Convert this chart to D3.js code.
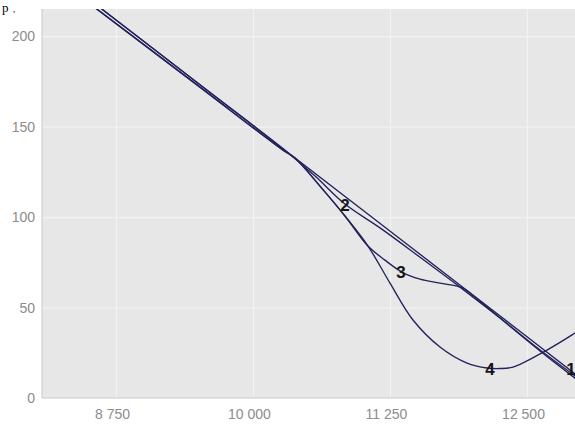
<!DOCTYPE html>
<html><head><meta charset="utf-8">
<script src="https://cdn.jsdelivr.net/npm/d3@7"></script>
<style>body{margin:0;background:#fff;overflow:hidden}svg{display:block}</style>
</head><body>
<script>
// ---- data ----
const xTicks = [8750, 10000, 11250, 12500];
const xTickLabels = ["8 750", "10 000", "11 250", "12 500"];
const yTicks = [0, 50, 100, 150, 200];
const yTickLabels = ["0", "50", "100", "150", "200"];

const curve1X = [8100, 9000, 10000, 11000, 12000, 13100];
const curve1Y = [239.3, 197.3, 150.6, 103.9, 57.2, 5.8];

const curve2X = [8148, 9516, 10274, 10566, 10839, 11159, 11524, 11889, 12254, 12619, 12938, 13120];
const curve2Y = [237.1, 173.1, 137.8, 122.7, 107.2, 94.0, 77.8, 61.3, 44.2, 26.5, 12.2, 3.9];

const curve3X = [8148, 8577, 9516, 10274, 10383, 10611, 10839, 11049, 11204, 11359, 11524, 11706, 11907, 12026, 12254, 12619, 12938, 13120];
const curve3Y = [234.6, 214.9, 171.8, 137.0, 132.6, 117.1, 100.6, 84.0, 76.2, 69.6, 65.7, 63.5, 61.0, 55.8, 44.2, 26.0, 11.0, 2.8];

const curve4X = [8148, 8577, 9516, 10274, 10383, 10611, 10839, 11049, 11250, 11460, 11706, 11953, 12135, 12254, 12372, 12682, 12938, 13120];
const curve4Y = [234.6, 214.9, 171.8, 137.0, 132.6, 117.1, 100.6, 84.0, 63.5, 43.1, 28.2, 19.3, 16.6, 16.3, 17.1, 26.5, 35.9, 43.1];

const labelText = ["1", "2", "3", "4"];
const labelX = [12901, 10839, 11350, 12162];
const labelY = [16.0, 106.6, 69.1, 15.5];

// ---- layout ----
const W = 575, H = 424;
const plot = {left: 42, top: 9, right: 600, bottom: 398};

const svg = d3.select("body").append("svg").attr("width", W).attr("height", H);

const x = d3.scaleLinear().domain([8075, 13166]).range([plot.left, plot.right]);
const y = d3.scaleLinear().domain([0, 215]).range([plot.bottom, plot.top]);

svg.append("defs").append("clipPath").attr("id", "clip")
  .append("rect").attr("x", plot.left).attr("y", plot.top)
  .attr("width", plot.right - plot.left).attr("height", plot.bottom - plot.top);

// plot background
svg.append("rect").attr("x", plot.left).attr("y", plot.top)
  .attr("width", plot.right - plot.left).attr("height", plot.bottom - plot.top)
  .attr("fill", "#e7e7e7");

// gridlines
const gy = svg.append("g").attr("transform", `translate(${plot.left},0)`)
  .call(d3.axisLeft(y).tickValues(yTicks.slice(1)).tickSize(-(plot.right - plot.left)).tickFormat(""));
gy.select(".domain").remove();
gy.selectAll("line").attr("stroke", "#f2f2f2").attr("stroke-width", 1.2);

const gx = svg.append("g").attr("transform", `translate(0,${plot.bottom})`)
  .call(d3.axisBottom(x).tickValues(xTicks).tickSize(-(plot.bottom - plot.top)).tickFormat(""));
gx.select(".domain").remove();
gx.selectAll("line").attr("stroke", "#f2f2f2").attr("stroke-width", 1.2);

// axis lines
svg.append("line").attr("x1", plot.left).attr("x2", plot.left)
  .attr("y1", plot.top).attr("y2", plot.bottom).attr("stroke", "#c8c8c8");
svg.append("line").attr("x1", plot.left).attr("x2", W)
  .attr("y1", plot.bottom).attr("y2", plot.bottom).attr("stroke", "#c8c8c8");

// tick labels
const yAxis = svg.append("g").attr("transform", `translate(${plot.left},0)`)
  .call(d3.axisLeft(y).tickValues(yTicks).tickSize(0).tickPadding(7)
    .tickFormat((d, i) => yTickLabels[i]));
yAxis.select(".domain").remove();
yAxis.selectAll("text").attr("fill", "#8c8c8c").style("font-family", "'Liberation Sans', Arial, sans-serif").style("font-size", "14px");

const xAxis = svg.append("g").attr("transform", `translate(0,${plot.bottom})`)
  .call(d3.axisBottom(x).tickValues(xTicks).tickSize(0).tickPadding(11)
    .tickFormat((d, i) => xTickLabels[i]));
xAxis.select(".domain").remove();
xAxis.selectAll("text").attr("fill", "#8c8c8c").attr("dx", -4)
  .style("font-family", "'Liberation Sans', Arial, sans-serif").style("font-size", "14px");

// curves
const line = d3.line().x(d => x(d[0])).y(d => y(d[1])).curve(d3.curveCatmullRom.alpha(0.5));
const series = [
  d3.zip(curve1X, curve1Y),
  d3.zip(curve2X, curve2Y),
  d3.zip(curve3X, curve3Y),
  d3.zip(curve4X, curve4Y)
];
svg.append("g").attr("clip-path", "url(#clip)")
  .selectAll("path").data(series).join("path")
  .attr("d", line).attr("fill", "none")
  .attr("stroke", "#22225c").attr("stroke-width", 1.35);

// curve labels
svg.append("g").selectAll("text").data(labelText).join("text")
  .attr("x", (d, i) => x(labelX[i])).attr("y", (d, i) => y(labelY[i]))
  .attr("text-anchor", "middle").attr("dominant-baseline", "central")
  .style("font-family", "'Liberation Sans', Arial, sans-serif")
  .style("font-weight", "bold").style("font-size", "17px").attr("fill", "#151515")
  .text(d => d);

// small text fragment at the top-left corner
svg.append("text").attr("x", 2).attr("y", 12)
  .style("font-family", "'Liberation Serif', serif").style("font-size", "13px")
  .attr("fill", "#000").text("p");
svg.append("text").attr("x", 13).attr("y", 12)
  .style("font-family", "'Liberation Serif', serif").style("font-size", "9px")
  .attr("fill", "#000").text(",");
</script>
</body></html>
